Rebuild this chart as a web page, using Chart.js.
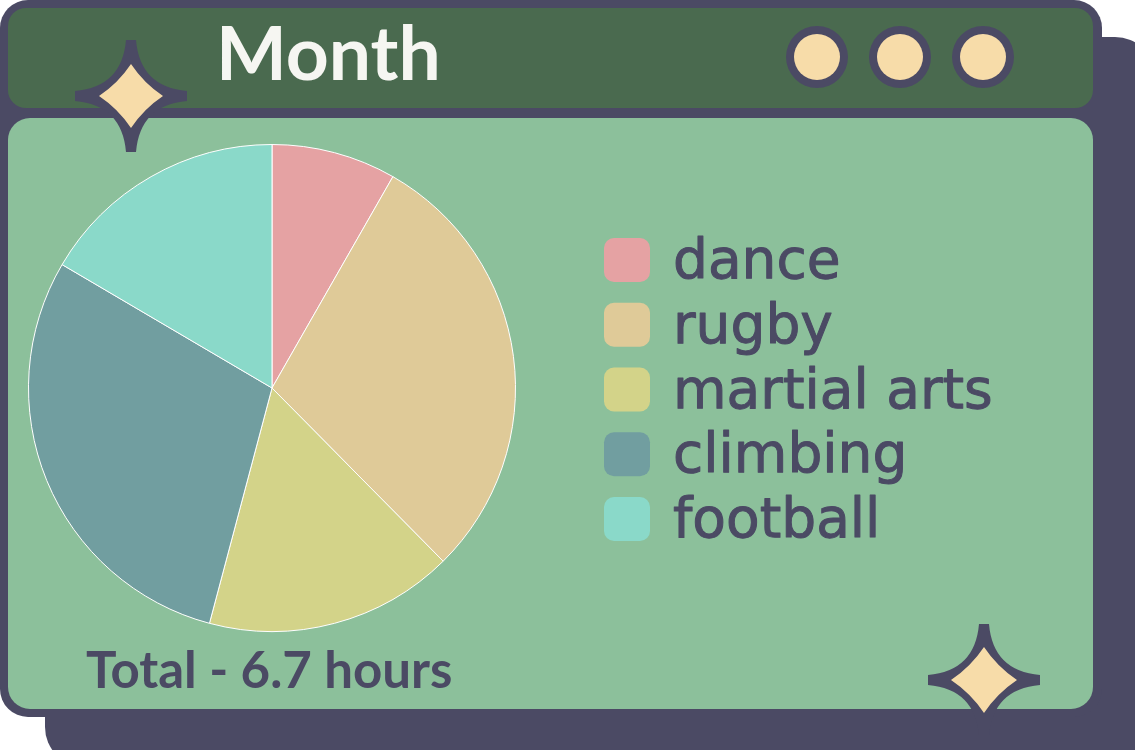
<!DOCTYPE html>
<html><head><meta charset="utf-8">
<script src="https://cdn.jsdelivr.net/npm/chart.js@4.4.1/dist/chart.umd.min.js"></script>
<style>html,body{margin:0;padding:0;background:#fff;overflow:hidden}
#wrap{position:relative;width:1135px;height:750px}</style>
</head><body><div id="wrap"><canvas id="c" width="1135" height="750"></canvas></div>
<script>
const titleText = 'Month';
const categories = ['dance', 'rugby', 'martial arts', 'climbing', 'football'];
const hours = [0.55, 1.95, 1.1, 1.95, 1.1];
const sliceColors = ['#e5a2a3', '#dfca98', '#d3d389', '#719ea0', '#8ad9c9'];
const totalLabel = 'Total - 6.7 hours';

const C = {dark: '#4b4a64', bar: '#4a6a4f', body: '#8cc09b', cream: '#f7dca9', title: '#f6f6f2'};

function rr(ctx, x, y, w, h, r) {
  ctx.beginPath();
  ctx.moveTo(x + r, y);
  ctx.arcTo(x + w, y, x + w, y + h, r);
  ctx.arcTo(x + w, y + h, x, y + h, r);
  ctx.arcTo(x, y + h, x, y, r);
  ctx.arcTo(x, y, x + w, y, r);
  ctx.closePath();
}
function outerStar(ctx, cx, cy, a, f, c) {
  ctx.beginPath();
  ctx.moveTo(cx - f, cy - a);
  ctx.lineTo(cx + f, cy - a);
  ctx.quadraticCurveTo(cx + c, cy - c, cx + a, cy - f);
  ctx.lineTo(cx + a, cy + f);
  ctx.quadraticCurveTo(cx + c, cy + c, cx + f, cy + a);
  ctx.lineTo(cx - f, cy + a);
  ctx.quadraticCurveTo(cx - c, cy + c, cx - a, cy + f);
  ctx.lineTo(cx - a, cy - f);
  ctx.quadraticCurveTo(cx - c, cy - c, cx - f, cy - a);
  ctx.closePath();
}
function innerStar(ctx, cx, cy, a, k) {
  ctx.beginPath();
  ctx.moveTo(cx, cy - a);
  ctx.quadraticCurveTo(cx + a * k, cy - a * k, cx + a, cy);
  ctx.quadraticCurveTo(cx + a * k, cy + a * k, cx, cy + a);
  ctx.quadraticCurveTo(cx - a * k, cy + a * k, cx - a, cy);
  ctx.quadraticCurveTo(cx - a * k, cy - a * k, cx, cy - a);
  ctx.closePath();
}
function drawStar(ctx, cx, cy, inner) {
  ctx.fillStyle = C.dark;
  outerStar(ctx, cx, cy, 56, 5, 9);
  ctx.fill();
  ctx.fillStyle = C.cream;
  innerStar(ctx, cx, cy, inner, 0.4);
  ctx.fill();
}

const framePlugin = {
  id: 'frame',
  beforeDraw(chart) {
    const ctx = chart.ctx;
    ctx.save();
    ctx.fillStyle = '#ffffff';
    ctx.fillRect(0, 0, 1135, 750);
    ctx.fillStyle = C.dark;
    rr(ctx, 45, 37, 1110, 730, 40); ctx.fill();
    rr(ctx, 0, 0, 1102, 717, 28); ctx.fill();
    ctx.fillStyle = C.bar;
    rr(ctx, 8, 8, 1085, 100, 18); ctx.fill();
    ctx.fillStyle = C.body;
    rr(ctx, 8, 118, 1085, 591, 22); ctx.fill();
    [817, 900, 983].forEach(x => {
      ctx.beginPath(); ctx.arc(x, 57, 31, 0, Math.PI * 2); ctx.fillStyle = C.dark; ctx.fill();
      ctx.beginPath(); ctx.arc(x, 57, 23, 0, Math.PI * 2); ctx.fillStyle = C.cream; ctx.fill();
    });
    ctx.fillStyle = C.title;
    ctx.font = 'bold 75px Lato, sans-serif';
    ctx.textBaseline = 'alphabetic';
    ctx.textAlign = 'left';
    ctx.fillText(titleText, 216, 80);
    drawStar(ctx, 131, 96, 32);
    drawStar(ctx, 984, 680, 33);
    ctx.restore();
  },
  afterDraw(chart) {
    const ctx = chart.ctx;
    ctx.save();
    const labels = chart.data.labels;
    const colors = chart.data.datasets[0].backgroundColor;
    labels.forEach((lab, i) => {
      const cy = 260 + i * 64.75;
      ctx.fillStyle = colors[i];
      rr(ctx, 604, cy - 22, 46, 44, 10); ctx.fill();
      ctx.fillStyle = C.dark;
      ctx.strokeStyle = C.dark;
      ctx.lineWidth = 1;
      ctx.lineJoin = 'round';
      ctx.font = '55px "DejaVu Sans", sans-serif';
      ctx.textBaseline = 'alphabetic';
      ctx.textAlign = 'left';
      ctx.fillText(lab, 673, cy + 18);
      ctx.strokeText(lab, 673, cy + 18);
    });
    ctx.fillStyle = C.dark;
    ctx.font = 'bold 51px Lato, sans-serif';
    ctx.fillText(totalLabel, 86, 688);
    ctx.restore();
  }
};

new Chart(document.getElementById('c'), {
  type: 'pie',
  data: {
    labels: categories,
    datasets: [{
      data: hours,
      backgroundColor: sliceColors,
      borderColor: '#ffffff',
      borderWidth: 1
    }]
  },
  options: {
    responsive: false,
    animation: false,
    layout: {padding: {left: 28, top: 144, right: 619, bottom: 118}},
    plugins: {legend: {display: false}, tooltip: {enabled: false}, title: {display: false}}
  },
  plugins: [framePlugin]
});
</script></body></html>
